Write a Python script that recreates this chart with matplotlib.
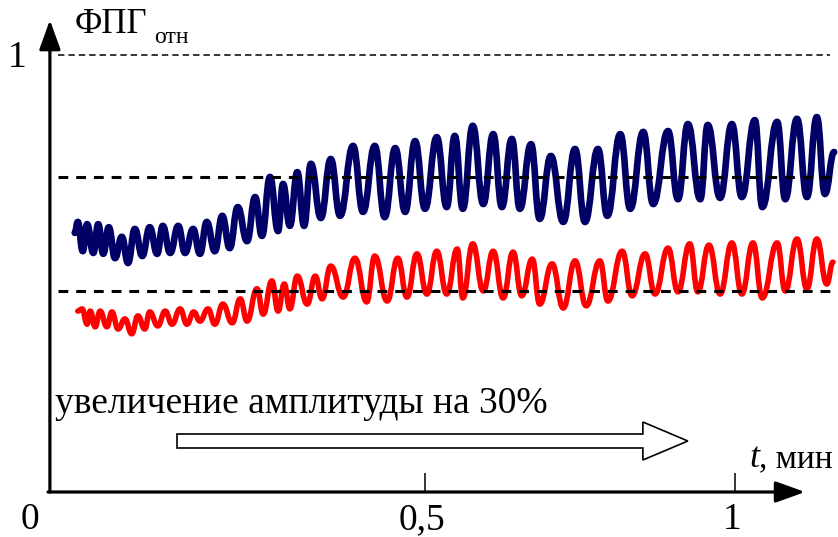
import numpy as np
import matplotlib
matplotlib.use("Agg")
import matplotlib.pyplot as plt
from matplotlib.path import Path
from matplotlib.patches import PathPatch, FancyArrow

plt.rcParams['font.family'] = ['Liberation Serif', 'DejaVu Serif']

# blue curve: successive peaks / troughs, time in minutes, relative PPG units
blue_t = [-0.065, -0.060, -0.052, -0.045, -0.035, -0.027, -0.019, -0.010, 0.000, 0.011,
          0.021, 0.032, 0.044, 0.056, 0.068, 0.077, 0.089, 0.102, 0.113, 0.126,
          0.137, 0.148, 0.161, 0.173, 0.185, 0.198, 0.213, 0.226, 0.237, 0.250,
          0.263, 0.271, 0.282, 0.294, 0.305, 0.316, 0.332, 0.348, 0.363, 0.384,
          0.400, 0.419, 0.435, 0.452, 0.468, 0.484, 0.500, 0.519, 0.535, 0.548,
          0.561, 0.577, 0.594, 0.610, 0.624, 0.640, 0.653, 0.671, 0.685, 0.703,
          0.723, 0.742, 0.758, 0.779, 0.794, 0.815, 0.831, 0.852, 0.868, 0.892,
          0.908, 0.924, 0.944, 0.956, 0.976, 0.995, 1.011, 1.032, 1.044, 1.068,
          1.081, 1.100, 1.116, 1.132, 1.145, 1.160]
blue_v = [0.593, 0.618, 0.551, 0.613, 0.547, 0.613, 0.545, 0.606, 0.535, 0.584,
          0.524, 0.602, 0.540, 0.606, 0.545, 0.609, 0.547, 0.609, 0.547, 0.602,
          0.545, 0.618, 0.551, 0.632, 0.558, 0.652, 0.574, 0.675, 0.586, 0.721,
          0.597, 0.705, 0.609, 0.732, 0.609, 0.751, 0.627, 0.762, 0.632, 0.792,
          0.641, 0.792, 0.629, 0.787, 0.641, 0.803, 0.648, 0.812, 0.652, 0.815,
          0.648, 0.838, 0.659, 0.819, 0.652, 0.808, 0.648, 0.796, 0.625, 0.769,
          0.618, 0.785, 0.618, 0.785, 0.632, 0.819, 0.648, 0.824, 0.659, 0.826,
          0.670, 0.842, 0.670, 0.840, 0.673, 0.842, 0.675, 0.851, 0.652, 0.847,
          0.670, 0.854, 0.675, 0.858, 0.682, 0.778]

# red curve
red_t = [-0.060, -0.053, -0.045, -0.040, -0.032, -0.024, -0.013, -0.005, 0.005, 0.016,
         0.027, 0.037, 0.048, 0.056, 0.069, 0.081, 0.092, 0.105, 0.116, 0.127,
         0.137, 0.150, 0.161, 0.174, 0.189, 0.202, 0.213, 0.229, 0.239, 0.253,
         0.263, 0.273, 0.282, 0.294, 0.310, 0.323, 0.334, 0.348, 0.368, 0.387,
         0.406, 0.419, 0.439, 0.456, 0.471, 0.487, 0.503, 0.519, 0.535, 0.552,
         0.561, 0.577, 0.594, 0.610, 0.626, 0.642, 0.656, 0.673, 0.685, 0.705,
         0.723, 0.742, 0.760, 0.782, 0.795, 0.818, 0.834, 0.855, 0.871, 0.892,
         0.908, 0.927, 0.940, 0.958, 0.976, 0.995, 1.011, 1.029, 1.044, 1.068,
         1.081, 1.100, 1.116, 1.132, 1.148, 1.158]
red_v = [0.414, 0.419, 0.384, 0.414, 0.378, 0.414, 0.378, 0.412, 0.373, 0.396,
         0.362, 0.403, 0.373, 0.412, 0.380, 0.414, 0.384, 0.419, 0.384, 0.412,
         0.391, 0.419, 0.384, 0.430, 0.387, 0.442, 0.391, 0.465, 0.407, 0.483,
         0.414, 0.476, 0.419, 0.494, 0.430, 0.494, 0.442, 0.517, 0.446, 0.535,
         0.435, 0.540, 0.437, 0.535, 0.446, 0.545, 0.453, 0.551, 0.453, 0.556,
         0.444, 0.568, 0.460, 0.551, 0.444, 0.549, 0.449, 0.533, 0.430, 0.522,
         0.421, 0.529, 0.426, 0.529, 0.437, 0.551, 0.449, 0.545, 0.453, 0.558,
         0.458, 0.568, 0.458, 0.565, 0.453, 0.570, 0.453, 0.570, 0.444, 0.570,
         0.460, 0.579, 0.465, 0.579, 0.476, 0.526]

levels = [1.0, 0.72, 0.46]
tick_pos = [0.5, 1.0]
tick_labels = ["0,5", "1"]


def wave(t, v):
    # smooth curve through the extrema (horizontal tangent at each one)
    verts = [(t[0], v[0])]
    codes = [Path.MOVETO]
    for i in range(1, len(t)):
        dx = t[i] - t[i - 1]
        verts += [(t[i - 1] + 0.45 * dx, v[i - 1]), (t[i] - 0.45 * dx, v[i]), (t[i], v[i])]
        codes += [Path.CURVE4] * 3
    return Path(verts, codes)


fig = plt.figure(figsize=(8.38, 5.37), dpi=100)
ax = fig.add_axes([0, 0, 1, 1])
ax.set_xlim(-115 / 620, 723 / 620)
ax.set_ylim(-45 / 437, 492 / 437)
ax.axis('off')

ax.add_patch(PathPatch(wave(blue_t, blue_v), fill=False, ec='#000066', lw=4.8,
                       joinstyle='round', capstyle='round', zorder=3))
ax.add_patch(PathPatch(wave(red_t, red_v), fill=False, ec='#ff0000', lw=4.0,
                       joinstyle='round', capstyle='round', zorder=3))

x_ax = -0.105
ax.hlines(levels[0], -0.092, 1.153, colors='black', lw=1.1,
          linestyles=(0, (4.2, 2.6)), zorder=4)
ax.hlines(levels[1:], -0.092, 1.161, colors='black', lw=2.2,
          linestyles=(0, (3.2, 2.6)), zorder=4)

# axes with arrows
ax.annotate('', xy=(x_ax, 1.080), xytext=(x_ax, 0), zorder=5,
            arrowprops=dict(arrowstyle='-|>,head_length=1.8,head_width=0.65', lw=2.3,
                            color='black', shrinkA=0, shrinkB=0, mutation_scale=10))
ax.annotate('', xy=(1.113, 0), xytext=(x_ax - 0.003, 0), zorder=5,
            arrowprops=dict(arrowstyle='-|>,head_length=1.8,head_width=0.65', lw=2.3,
                            color='black', shrinkA=0, shrinkB=0, mutation_scale=10))
ax.vlines(tick_pos, 0, 0.0435, colors='black', lw=1.1)

for p, lab in zip(tick_pos, tick_labels):
    ax.text(p - 0.005, -0.064, lab, fontsize=27, ha='center', va='center')
ax.text(-0.137, -0.064, "0", fontsize=27, ha='center', va='center')
ax.text(-0.158, 0.994, "1", fontsize=27, ha='center', va='center')

ax.text(-0.065, 1.050, "ФПГ", fontsize=25, ha='left', va='baseline')
ax.text(0.063, 1.027, "отн", fontsize=17, ha='left', va='baseline')
ax.text(1.024, 0.057, "t", fontsize=26, style='italic', ha='left', va='baseline')
ax.text(1.038, 0.057, ", мин", fontsize=24, ha='left', va='baseline')

ax.text(-0.097, 0.181, "увеличение амплитуды на 30%", fontsize=27, ha='left', va='baseline')
ax.add_patch(FancyArrow(0.1, 0.1167, 0.824, 0, width=0.032, head_width=0.087,
                        head_length=0.0726, length_includes_head=True,
                        fc='white', ec='black', lw=1.2))

fig.savefig("out.png", dpi=100)
